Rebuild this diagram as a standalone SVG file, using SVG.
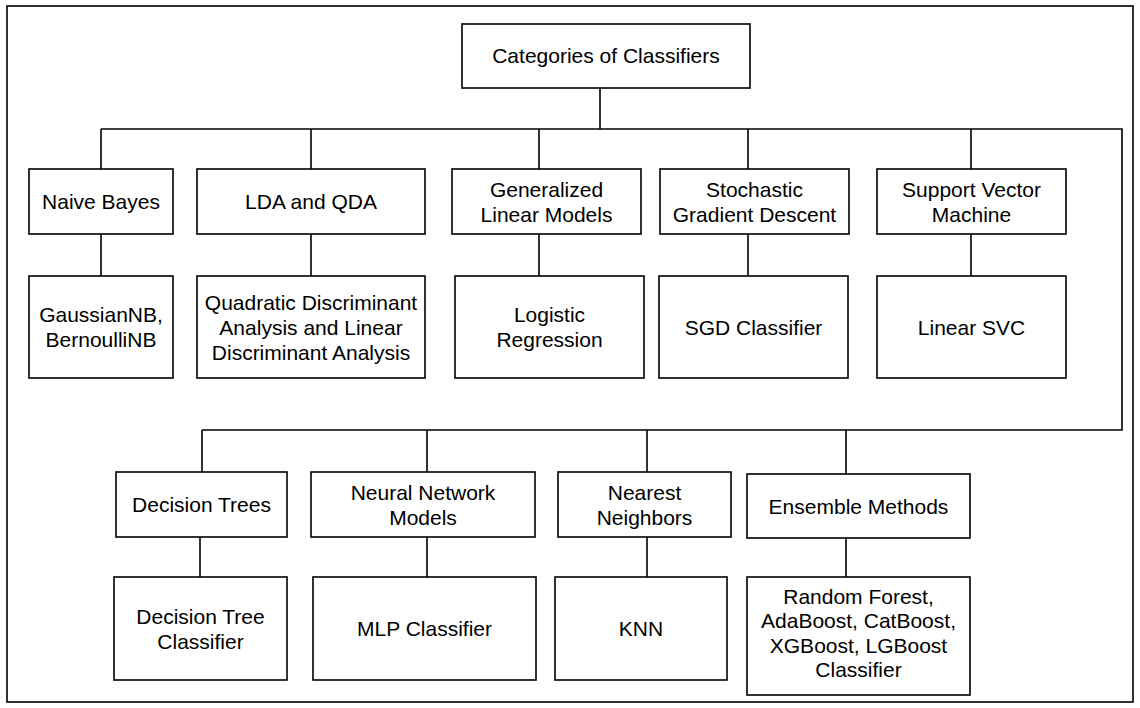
<svg xmlns="http://www.w3.org/2000/svg" width="1140" height="708" viewBox="0 0 1140 708">
<style>
.box{fill:#fff;stroke:#000;stroke-width:1.6}
.ln{fill:none;stroke:#000;stroke-width:1.6}
text{font-family:"Liberation Sans",Arial,sans-serif;font-size:21px;fill:#000;text-anchor:middle}
</style>
<rect x="0" y="0" width="1140" height="708" fill="#fff"/>
<rect id="frame" x="7" y="6" width="1126" height="696" class="ln"/>
<g id="connectors">
<path class="ln" d="M600 88V129M101 129H1122V430H202M101 129V169M311 129V169M539 129V169M748 129V169M971 129V169"/>
<path class="ln" d="M101 234V276M311 234V276M539 234V276M748 234V276M971 234V276"/>
<path class="ln" d="M202 430V472M427 430V472M647 430V472M846 430V474"/>
<path class="ln" d="M200 537V577M427 537V577M647 537V577M846 538V577"/>
</g>
<g id="root"><rect class="box" x="462" y="24" width="288" height="64"/><text x="606" y="63">Categories of Classifiers</text></g>
<g id="nb"><rect class="box" x="29" y="169" width="144" height="65"/><text x="101" y="209">Naive Bayes</text></g>
<g id="lda"><rect class="box" x="197" y="169" width="228" height="65"/><text x="311" y="209">LDA and QDA</text></g>
<g id="glm"><rect class="box" x="452" y="169" width="189" height="65"/><text x="546.5" y="196.5">Generalized</text><text x="546.5" y="221.5">Linear Models</text></g>
<g id="sgd"><rect class="box" x="660" y="169" width="189" height="65"/><text x="754.5" y="196.5">Stochastic</text><text x="754.5" y="221.5">Gradient Descent</text></g>
<g id="svm"><rect class="box" x="877" y="169" width="189" height="65"/><text x="971.5" y="196.5">Support Vector</text><text x="971.5" y="221.5">Machine</text></g>
<g id="gnb"><rect class="box" x="29" y="276" width="144" height="102"/><text x="101" y="322">GaussianNB,</text><text x="101" y="347">BernoulliNB</text></g>
<g id="qda"><rect class="box" x="197" y="276" width="228" height="102"/><text x="311" y="309.5">Quadratic Discriminant</text><text x="311" y="334.5">Analysis and Linear</text><text x="311" y="359.5">Discriminant Analysis</text></g>
<g id="lr"><rect class="box" x="455" y="276" width="189" height="102"/><text x="549.5" y="322">Logistic</text><text x="549.5" y="347">Regression</text></g>
<g id="sgdc"><rect class="box" x="659" y="276" width="189" height="102"/><text x="753.5" y="334.5">SGD Classifier</text></g>
<g id="lsvc"><rect class="box" x="877" y="276" width="189" height="102"/><text x="971.5" y="334.5">Linear SVC</text></g>
<g id="dt"><rect class="box" x="116" y="472" width="171" height="65"/><text x="201.5" y="512">Decision Trees</text></g>
<g id="nn"><rect class="box" x="311" y="472" width="224" height="65"/><text x="423" y="499.5">Neural Network</text><text x="423" y="524.5">Models</text></g>
<g id="knnc"><rect class="box" x="558" y="472" width="173" height="65"/><text x="644.5" y="499.5">Nearest</text><text x="644.5" y="524.5">Neighbors</text></g>
<g id="ens"><rect class="box" x="747" y="474" width="223" height="64"/><text x="858.5" y="513.5">Ensemble Methods</text></g>
<g id="dtc"><rect class="box" x="114" y="577" width="173" height="103"/><text x="200.5" y="623.5">Decision Tree</text><text x="200.5" y="648.5">Classifier</text></g>
<g id="mlp"><rect class="box" x="313" y="577" width="223" height="103"/><text x="424.5" y="636">MLP Classifier</text></g>
<g id="knn"><rect class="box" x="555" y="577" width="172" height="103"/><text x="641" y="636">KNN</text></g>
<g id="ensl"><rect class="box" x="747" y="577" width="223" height="118"/><text x="858.5" y="603.5">Random Forest,</text><text x="858.5" y="628">AdaBoost, CatBoost,</text><text x="858.5" y="652.5">XGBoost, LGBoost</text><text x="858.5" y="677">Classifier</text></g>
</svg>
